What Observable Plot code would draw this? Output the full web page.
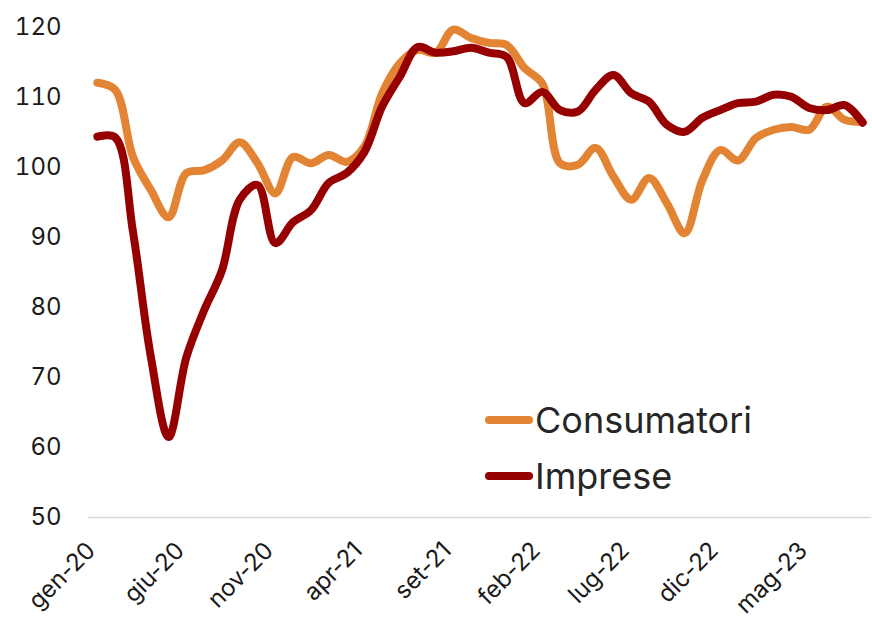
<!DOCTYPE html>
<html>
<head>
<meta charset="utf-8">
<script src="https://cdn.jsdelivr.net/npm/d3@7"></script>
<script src="https://cdn.jsdelivr.net/npm/@observablehq/plot@0.6"></script>
<style>
  html, body { margin: 0; padding: 0; background: #fff; }
  #wrap { position: relative; width: 872px; height: 625px; font-family: Inter, "Open Sans", sans-serif; }
  #legend { position: absolute; left: 485px; top: 392px; color: #262626; font-size: 36px; }
  .row { display: flex; align-items: center; height: 56px; }
  .sw { width: 48px; height: 8px; border-radius: 4px; margin-right: 2px; }
</style>
</head>
<body>
<div id="wrap"><div id="legend"></div></div>
<script>
const categories = [
  "gen-20","feb-20","mar-20","apr-20","mag-20","giu-20","lug-20","ago-20","set-20","ott-20","nov-20","dic-20",
  "gen-21","feb-21","mar-21","apr-21","mag-21","giu-21","lug-21","ago-21","set-21","ott-21","nov-21","dic-21",
  "gen-22","feb-22","mar-22","apr-22","mag-22","giu-22","lug-22","ago-22","set-22","ott-22","nov-22","dic-22",
  "gen-23","feb-23","mar-23","apr-23","mag-23","giu-23","lug-23","ago-23"
];
const tickLabels = ["gen-20","giu-20","nov-20","apr-21","set-21","feb-22","lug-22","dic-22","mag-23"];
const consumatori = [112.1, 111.1, 101.5, 96.8, 92.9, 99.2, 99.6, 101.0, 103.6, 100.6, 96.3, 101.5,
  100.6, 101.8, 100.8, 103.0, 110.6, 114.9, 116.8, 116.4, 119.7, 118.5, 117.8, 117.5,
  114.2, 112.0, 100.6, 100.4, 102.8, 98.7, 95.4, 98.5, 94.9, 90.6, 98.2, 102.5,
  101.0, 104.2, 105.4, 105.8, 105.4, 108.7, 106.8, 106.5];
const imprese = [104.4, 104.3, 90.8, 73.0, 61.5, 72.9, 79.6, 85.3, 95.4, 97.5, 89.2, 92.2,
  93.9, 97.8, 99.2, 102.2, 108.7, 113.0, 117.2, 116.4, 116.6, 117.1, 116.4, 115.8,
  109.2, 110.8, 108.2, 108.0, 111.1, 113.2, 110.6, 109.4, 106.1, 105.1, 107.1, 108.2,
  109.2, 109.4, 110.4, 110.1, 108.5, 108.2, 108.9, 106.4];
const seriesNames = ["Consumatori", "Imprese"];
const seriesColors = ["#E38434", "#960000"];
const yTicks = [50, 60, 70, 80, 90, 100, 110, 120];

const rows = [];
[consumatori, imprese].forEach((vals, s) => {
  vals.forEach((v, i) => rows.push({serie: seriesNames[s], mese: categories[i], valore: v}));
});

const chart = Plot.plot({
  width: 872,
  height: 625,
  marginLeft: 88,
  marginRight: 1,
  marginTop: 27,
  marginBottom: 108,
  style: {fontFamily: "Inter, 'Open Sans', sans-serif", fontSize: "24px", color: "#1a1a1a", background: "#fff"},
  x: {type: "point", domain: categories, axis: null},
  y: {domain: [50, 120], axis: null},
  color: {domain: seriesNames, range: seriesColors},
  marks: [
    Plot.ruleY([50], {stroke: "#d9d9d9", strokeWidth: 1.5}),
    Plot.axisY(yTicks, {tickSize: 0, tickPadding: 27, fontSize: 24, label: null}),
    Plot.axisX(tickLabels, {tickSize: 0, tickRotate: -45, tickPadding: 29, dx: -6, fontSize: 24, label: null}),
    Plot.line(rows, {x: "mese", y: "valore", z: "serie", stroke: "serie", strokeWidth: 8,
      curve: "catmull-rom", strokeLinecap: "round", strokeLinejoin: "round"})
  ]
});
document.getElementById("wrap").prepend(chart);

const legend = document.getElementById("legend");
seriesNames.forEach((n, i) => {
  const r = document.createElement("div");
  r.className = "row";
  r.innerHTML = `<span class="sw" style="background:${seriesColors[i]}"></span><span>${n}</span>`;
  legend.appendChild(r);
});
</script>
</body>
</html>
